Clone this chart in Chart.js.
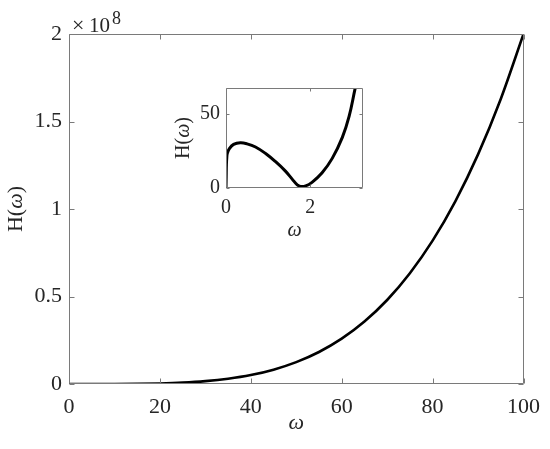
<!DOCTYPE html>
<html>
<head>
<meta charset="utf-8">
<script src="https://cdn.jsdelivr.net/npm/chart.js@4"></script>
<style>
  html, body { margin: 0; padding: 0; background: #ffffff; }
  #wrap { position: relative; width: 550px; height: 449px; }
  #main { position: absolute; left: 0; top: 0; }
  #inset { position: absolute; left: 140px; top: 70px; }
</style>
</head>
<body>
<div id="wrap">
  <canvas id="main" width="550" height="449"></canvas>
  <canvas id="inset" width="240" height="190"></canvas>
</div>
<script>
// ---- main curve data (H in units of 1e8) ----
const mainOmega = [0, 5, 10, 15, 20, 25, 30, 35, 40, 45, 50, 55, 60, 65, 70, 75, 80, 85, 90, 95, 100];
const mainH = [0, 0.00013, 0.0002, 0.001, 0.0032, 0.0078, 0.0162, 0.030, 0.051, 0.082, 0.125, 0.183, 0.259, 0.357, 0.480, 0.633, 0.819, 1.044, 1.312, 1.629, 2.0];
const mainXTicks = [0, 20, 40, 60, 80, 100];
const mainYTicks = [0, 0.5, 1, 1.5, 2];
const mainYTickLabels = ['0', '0.5', '1', '1.5', '2'];

// ---- inset curve data ----
const insetOmega = [0, 0.005, 0.01, 0.02, 0.03, 0.08, 0.18, 0.34, 0.5, 0.7, 0.94, 1.17, 1.41, 1.57, 1.69, 1.77, 1.89, 2.04, 2.28, 2.52, 2.76, 2.92, 3.06, 3.08];
const insetH = [0, 8, 16, 21, 23.3, 26.6, 29.4, 30.5, 29.8, 27.7, 23.3, 17.9, 11.4, 6.0, 2.1, 1.0, 1.4, 3.8, 10.3, 20, 34.2, 48.3, 66.7, 69];
const insetXTicks = [0, 2];
const insetYTicks = [0, 50];

const SERIF = "'Liberation Serif', 'Times New Roman', serif";
const TXT = '#262626';
const AXC = '#7a7a7a';

function frameTicks(tickLen) {
  return {
    id: 'frameTicks',
    afterDraw(chart) {
      const { ctx, chartArea: { left, right, top, bottom }, scales: { x, y } } = chart;
      ctx.save();
      ctx.strokeStyle = AXC;
      ctx.lineWidth = 1;
      const L = Math.round(left) + 0.5, R = Math.round(right) - 0.5;
      const T = Math.round(top) + 0.5, B = Math.round(bottom) - 0.5;
      ctx.beginPath();
      ctx.rect(L, T, R - L, B - T);
      ctx.stroke();
      ctx.beginPath();
      x.ticks.forEach(t => {
        const px = Math.round(x.getPixelForValue(t.value)) + 0.5;
        ctx.moveTo(px, B); ctx.lineTo(px, B - tickLen);
        ctx.moveTo(px, T); ctx.lineTo(px, T + tickLen);
      });
      y.ticks.forEach(t => {
        const py = Math.round(y.getPixelForValue(t.value)) + 0.5;
        ctx.moveTo(L, py); ctx.lineTo(L + tickLen, py);
        ctx.moveTo(R, py); ctx.lineTo(R - tickLen, py);
      });
      ctx.stroke();
      ctx.restore();
    }
  };
}

function drawHOmega(ctx, cx, cy, size) {
  ctx.save();
  ctx.translate(cx, cy);
  ctx.rotate(-Math.PI / 2);
  ctx.fillStyle = TXT;
  ctx.textBaseline = 'middle';
  ctx.textAlign = 'left';
  const fN = size + 'px ' + SERIF;
  const fI = 'italic ' + size + 'px ' + SERIF;
  ctx.font = fN; const w1 = ctx.measureText('H(').width;
  ctx.font = fI; const w2 = ctx.measureText('\u03C9').width;
  ctx.font = fN; const w3 = ctx.measureText(')').width;
  let x0 = -(w1 + w2 + w3) / 2;
  ctx.font = fN; ctx.fillText('H(', x0, 0); x0 += w1;
  ctx.font = fI; ctx.fillText('\u03C9', x0, 0); x0 += w2;
  ctx.font = fN; ctx.fillText(')', x0, 0);
  ctx.restore();
}

function titles(opts) {
  return {
    id: 'titles',
    afterDraw(chart) {
      const { ctx, chartArea: { left, right, top, bottom } } = chart;
      ctx.save();
      ctx.fillStyle = TXT;
      ctx.textAlign = 'center';
      ctx.textBaseline = 'alphabetic';
      ctx.font = 'italic ' + opts.size + 'px ' + SERIF;
      ctx.fillText('\u03C9', (left + right) / 2, bottom + opts.xTitleBase);
      ctx.restore();
      drawHOmega(ctx, opts.yTitleX, (top + bottom) / 2, opts.size);
      if (opts.exponent) {
        ctx.save();
        ctx.fillStyle = TXT;
        ctx.textAlign = 'left';
        ctx.textBaseline = 'alphabetic';
        ctx.font = '22px ' + SERIF;
        ctx.fillText('\u00D7', left + 3, 31.5);
        ctx.font = '21px ' + SERIF;
        ctx.fillText('10', left + 20, 31.5);
        ctx.font = '18px ' + SERIF;
        ctx.fillText('8', left + 43, 24);
        ctx.restore();
      }
    }
  };
}

function setTicks(values) {
  return function (scale) { scale.ticks = values.map(v => ({ value: v })); };
}

// ---- main chart ----
new Chart(document.getElementById('main'), {
  type: 'line',
  data: {
    datasets: [{
      data: mainOmega.map((w, i) => ({ x: w, y: mainH[i] })),
      borderColor: '#000000',
      borderWidth: 2.6,
      pointRadius: 0,
      fill: false,
      cubicInterpolationMode: 'monotone'
    }]
  },
  options: {
    responsive: false,
    animation: false,
    events: [],
    layout: { padding: { top: 34, right: 21, left: 0, bottom: 0 } },
    plugins: { legend: { display: false }, tooltip: { enabled: false } },
    scales: {
      x: {
        type: 'linear', min: 0, max: 100,
        afterBuildTicks: setTicks(mainXTicks),
        afterFit(s) { s.height = 65; },
        grid: { display: false, drawTicks: false },
        border: { display: false },
        ticks: { color: TXT, padding: 10, maxRotation: 0, autoSkip: false, font: { family: SERIF, size: 22 } }
      },
      y: {
        type: 'linear', min: 0, max: 2,
        afterBuildTicks: setTicks(mainYTicks),
        afterFit(s) { s.width = 69; },
        grid: { display: false, drawTicks: false },
        border: { display: false },
        ticks: {
          color: TXT, padding: 7, autoSkip: false, font: { family: SERIF, size: 22 },
          callback: (v) => { const i = mainYTicks.indexOf(v); return i >= 0 ? mainYTickLabels[i] : ''; }
        }
      }
    }
  },
  plugins: [frameTicks(5), titles({ size: 22, xTitleBase: 45, yTitleX: 16, exponent: true })]
});

// ---- inset chart ----
new Chart(document.getElementById('inset'), {
  type: 'line',
  data: {
    datasets: [{
      data: insetOmega.map((w, i) => ({ x: w, y: insetH[i] })),
      borderColor: '#000000',
      borderWidth: 3,
      pointRadius: 0,
      fill: false,
      tension: 0.4
    }]
  },
  options: {
    responsive: false,
    animation: false,
    events: [],
    layout: { padding: { top: 13, right: 17, left: 0, bottom: 0 } },
    plugins: { legend: { display: false }, tooltip: { enabled: false } },
    scales: {
      x: {
        type: 'linear', min: 0, max: 3.25,
        afterBuildTicks: setTicks(insetXTicks),
        afterFit(s) { s.height = 72; },
        grid: { display: false, drawTicks: false },
        border: { display: false },
        ticks: { color: TXT, padding: 8, maxRotation: 0, autoSkip: false, font: { family: SERIF, size: 20 } }
      },
      y: {
        type: 'linear', min: 0, max: 67.5,
        afterBuildTicks: setTicks(insetYTicks),
        afterFit(s) { s.width = 86; },
        grid: { display: false, drawTicks: false },
        border: { display: false },
        ticks: { color: TXT, padding: 6, autoSkip: false, font: { family: SERIF, size: 20 } }
      }
    }
  },
  plugins: [frameTicks(3), titles({ size: 20, xTitleBase: 48, yTitleX: 44, exponent: false })]
});
</script>
</body>
</html>
